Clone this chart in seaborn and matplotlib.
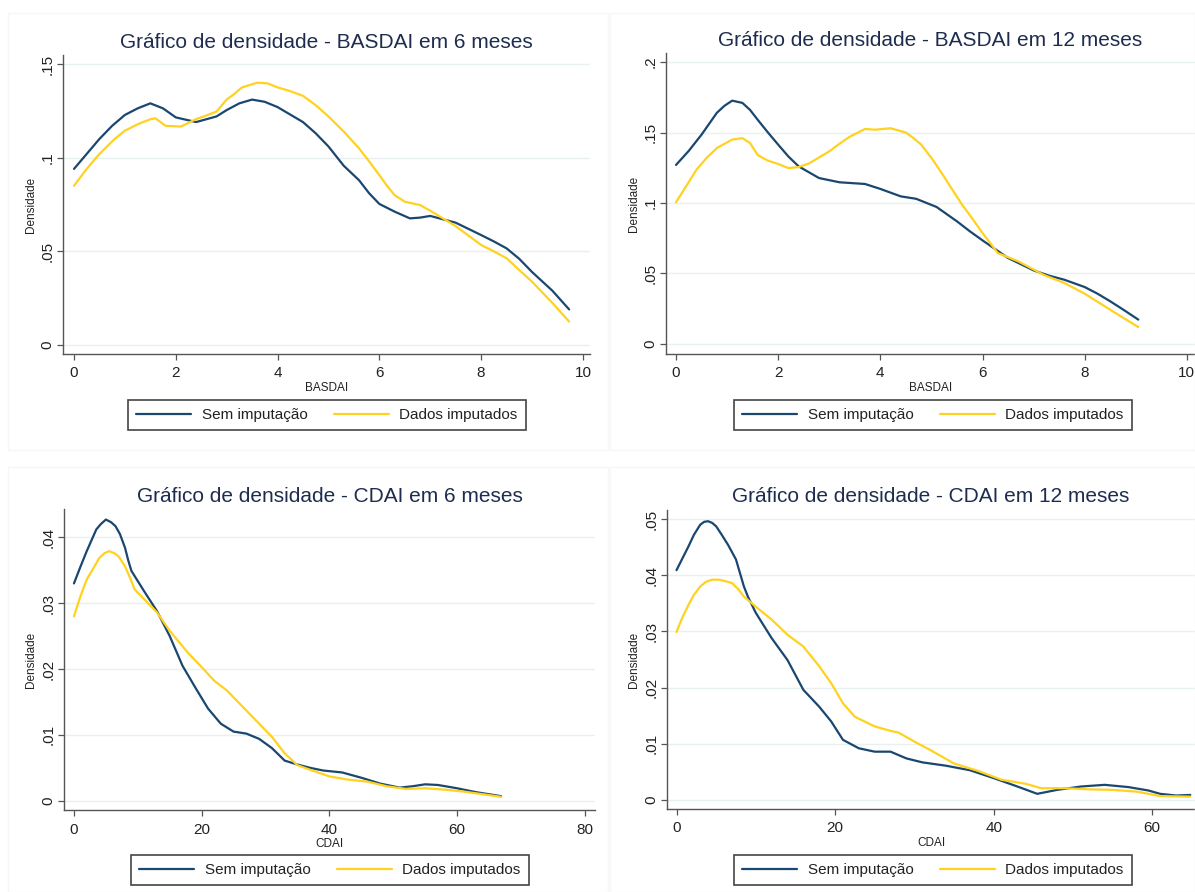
import numpy as np
import pandas as pd
import seaborn as sns
import matplotlib
matplotlib.use("Agg")
import matplotlib.pyplot as plt
from matplotlib.patches import Rectangle

# ---------------- data ----------------
labels = ["Sem imputação", "Dados imputados"]

# Panel 1: BASDAI 6 meses
b6_x_sem = [0, 0.5, 0.75, 1, 1.25, 1.5, 1.75, 2, 2.4, 2.8, 3, 3.25, 3.5, 3.75, 4, 4.25, 4.5, 4.75,
            5, 5.3, 5.6, 5.8, 6, 6.3, 6.6, 6.8, 7, 7.5, 8, 8.25, 8.5, 8.75, 9, 9.4, 9.73]
b6_y_sem = [0.094, 0.110, 0.117, 0.1228, 0.1263, 0.129, 0.1263, 0.1215, 0.119, 0.122, 0.1254, 0.129,
            0.131, 0.1298, 0.127, 0.123, 0.119, 0.113, 0.106, 0.0957, 0.088, 0.081, 0.0753, 0.0712,
            0.0676, 0.068, 0.0689, 0.0653, 0.0587, 0.0553, 0.0516, 0.046, 0.039, 0.029, 0.019]
b6_x_imp = [0, 0.25, 0.5, 0.8, 1, 1.25, 1.5, 1.6, 1.8, 2.1, 2.4, 2.6, 2.8, 3, 3.15, 3.3, 3.6, 3.8,
            4, 4.25, 4.5, 4.75, 5, 5.3, 5.6, 5.8, 6, 6.15, 6.3, 6.5, 6.8, 7, 7.5, 8, 8.25, 8.5, 8.75,
            9, 9.4, 9.73]
b6_y_imp = [0.085, 0.094, 0.102, 0.110, 0.1144, 0.1178, 0.1205, 0.121, 0.117, 0.1166, 0.1206, 0.1225,
            0.1246, 0.131, 0.134, 0.1375, 0.140, 0.1397, 0.1375, 0.1355, 0.133, 0.128, 0.122, 0.114,
            0.105, 0.098, 0.0907, 0.085, 0.080, 0.0765, 0.0747, 0.0717, 0.0635, 0.0534, 0.050,
            0.0463, 0.040, 0.0338, 0.0225, 0.0125]

# Panel 2: BASDAI 12 meses
b12_x_sem = [0, 0.25, 0.5, 0.8, 0.95, 1.1, 1.3, 1.45, 1.6, 1.8, 2, 2.2, 2.4, 2.8, 3.2, 3.7, 4, 4.4,
             4.7, 5.1, 5.5, 5.75, 6, 6.5, 7, 7.3, 7.6, 8, 8.25, 8.5, 8.75, 9.05]
b12_y_sem = [0.127, 0.137, 0.1485, 0.164, 0.169, 0.1726, 0.171, 0.166, 0.159, 0.150, 0.1414, 0.133,
             0.126, 0.1177, 0.1147, 0.1135, 0.110, 0.1047, 0.103, 0.0972, 0.087, 0.080, 0.0735,
             0.061, 0.0522, 0.0485, 0.0456, 0.0404, 0.0357, 0.0303, 0.0245, 0.0173]
b12_x_imp = [0, 0.2, 0.4, 0.6, 0.8, 1.1, 1.3, 1.45, 1.6, 1.8, 2, 2.2, 2.4, 2.6, 3, 3.2, 3.4, 3.7,
             3.9, 4.2, 4.5, 4.65, 4.8, 5.0, 5.2, 5.4, 5.6, 5.8, 6, 6.3, 6.7, 7.2, 7.6, 8, 8.5, 9.05]
b12_y_imp = [0.1005, 0.112, 0.1236, 0.132, 0.139, 0.145, 0.146, 0.1425, 0.134, 0.130, 0.1277, 0.1248,
             0.1255, 0.128, 0.1366, 0.142, 0.147, 0.1525, 0.152, 0.153, 0.150, 0.146, 0.1414, 0.132,
             0.1213, 0.110, 0.0988, 0.089, 0.0787, 0.0645, 0.0586, 0.049, 0.0433, 0.0357, 0.0243,
             0.012]

# Panel 3: CDAI 6 meses
c6_x_sem = [0, 1, 2, 3.5, 4.2, 5, 5.8, 6.5, 7.2, 8, 8.5, 9, 11, 13, 15, 17, 19, 21, 23, 25, 27, 29,
            31, 33, 35, 37, 39, 42, 45, 48, 51, 53, 55, 57, 60, 63, 66.9]
c6_y_sem = [0.033, 0.0355, 0.0379, 0.0412, 0.042, 0.0427, 0.0423, 0.0417, 0.0405, 0.0384, 0.0365,
            0.0349, 0.0318, 0.0288, 0.025, 0.0205, 0.0172, 0.014, 0.0117, 0.0105, 0.0102, 0.0094,
            0.008, 0.0061, 0.0055, 0.005, 0.0046, 0.0043, 0.0035, 0.0026, 0.002, 0.0022, 0.0025,
            0.0024, 0.0019, 0.0013, 0.0007]
c6_x_imp = [0, 1, 2, 4, 4.8, 5.5, 6.3, 7, 8, 8.8, 9.5, 11, 13, 15, 18, 20, 22, 24, 26, 28, 31, 33,
            35, 37, 40, 43, 46, 49, 52, 55, 58, 61, 64, 66.9]
c6_y_imp = [0.028, 0.031, 0.0336, 0.0369, 0.0376, 0.0379, 0.0376, 0.0371, 0.0356, 0.0338, 0.0321,
            0.0306, 0.0286, 0.0258, 0.0223, 0.0203, 0.0182, 0.0167, 0.0147, 0.0127, 0.0097, 0.0072,
            0.0054, 0.0047, 0.0037, 0.0032, 0.0029, 0.0022, 0.0018, 0.0019, 0.0017, 0.0014, 0.001,
            0.0006]

# Panel 4: CDAI 12 meses
c12_x_sem = [0, 0.75, 1.5, 2.2, 3, 3.5, 4, 4.5, 5, 5.7, 6.5, 7.5, 8.5, 9, 10, 12, 14, 16, 18, 19.5,
             21, 23, 25, 27, 29, 31, 34, 37, 40, 43, 45.5, 48, 51, 54, 57, 59.5, 61, 63, 64.8]
c12_y_sem = [0.0409, 0.043, 0.0451, 0.0472, 0.049, 0.0495, 0.0496, 0.0493, 0.0487, 0.0472, 0.0454,
             0.0428, 0.038, 0.0362, 0.0333, 0.0288, 0.0249, 0.0196, 0.0166, 0.014, 0.0107, 0.0092,
             0.0086, 0.0086, 0.0074, 0.0067, 0.0061, 0.0053, 0.0039, 0.0024, 0.0011, 0.0018,
             0.0024, 0.0027, 0.0023, 0.0017, 0.0011, 0.0008, 0.0009]
c12_x_imp = [0, 0.75, 1.5, 2.2, 3, 3.7, 4.5, 5.3, 6, 7, 7.8, 8.5, 10, 12, 14, 16, 18, 19.5, 21,
             22.5, 25, 27, 28, 30, 32, 35, 38, 41, 44, 46, 49, 52, 55, 58, 61, 64.8]
c12_y_imp = [0.0299, 0.0325, 0.0347, 0.0365, 0.038, 0.0388, 0.0392, 0.0392, 0.039, 0.0386, 0.0375,
             0.0362, 0.0344, 0.0321, 0.0294, 0.0273, 0.0238, 0.0208, 0.0172, 0.0148, 0.0131,
             0.0123, 0.012, 0.0104, 0.0089, 0.0065, 0.0052, 0.0036, 0.0029, 0.0021, 0.0021, 0.0019,
             0.0018, 0.0015, 0.0007, 0.0006]

titles = ["Gráfico de densidade - BASDAI em 6 meses",
          "Gráfico de densidade - BASDAI em 12 meses",
          "Gráfico de densidade - CDAI em 6 meses",
          "Gráfico de densidade - CDAI em 12 meses"]
xlabels = ["BASDAI", "BASDAI", "CDAI", "CDAI"]
xticks_list = [[0, 2, 4, 6, 8, 10], [0, 2, 4, 6, 8, 10], [0, 20, 40, 60, 80], [0, 20, 40, 60]]
yticks_list = [[0, 0.05, 0.1, 0.15], [0, 0.05, 0.1, 0.15, 0.2],
               [0, 0.01, 0.02, 0.03, 0.04], [0, 0.01, 0.02, 0.03, 0.04, 0.05]]
ytick_labels = [["0", ".05", ".1", ".15"], ["0", ".05", ".1", ".15", ".2"],
                ["0", ".01", ".02", ".03", ".04"], ["0", ".01", ".02", ".03", ".04", ".05"]]

series = [
    (b6_x_sem, b6_y_sem, b6_x_imp, b6_y_imp),
    (b12_x_sem, b12_y_sem, b12_x_imp, b12_y_imp),
    (c6_x_sem, c6_y_sem, c6_x_imp, c6_y_imp),
    (c12_x_sem, c12_y_sem, c12_x_imp, c12_y_imp),
]

# ---------------- layout (pixels of a 1195x892 figure) ----------------
W, H = 1195, 892
ax_px = [(63, 590, 55, 354), (666, 1195, 53, 354), (64, 595, 509, 810), (667, 1195, 510, 809)]
xlims = [(-0.216, 10.14), (-0.196, 10.16), (-1.56, 81.6), (-1.2, 65.4)]
ylims = [(-0.0048, 0.1548), (-0.0071, 0.2064), (-0.0014, 0.0443), (-0.0016, 0.0516)]
legend_centers = [(327, 415), (933, 415), (330, 870), (933, 870)]
panel_boxes = [(8, 13, 600, 437), (610, 13, 585, 437), (8, 467, 600, 425), (610, 467, 585, 425)]

NAVY = "#1A476F"
GOLD = "#FFD21F"
TITLE_C = "#1E2D4F"

sns.set_theme(style="white")
plt.rcParams["font.family"] = ["Liberation Sans", "DejaVu Sans"]

fig = plt.figure(figsize=(W / 100, H / 100), dpi=100)
fig.patch.set_facecolor("white")

for (bx, by, bw, bh) in panel_boxes:
    fig.patches.append(Rectangle((bx / W, 1 - (by + bh) / H), bw / W, bh / H,
                                 transform=fig.transFigure, fill=False,
                                 edgecolor="#F6F6F6", linewidth=1.0))

for i in range(4):
    l, r, t, b = ax_px[i]
    ax = fig.add_axes([l / W, 1 - b / H, (r - l) / W, (b - t) / H])
    xs, ys, xi, yi = series[i]
    df_s = pd.DataFrame({"x": xs, "y": ys})
    df_i = pd.DataFrame({"x": xi, "y": yi})
    sns.lineplot(data=df_s, x="x", y="y", ax=ax, color=NAVY, lw=1.6, label=labels[0],
                 estimator=None, sort=True, solid_joinstyle="round")
    sns.lineplot(data=df_i, x="x", y="y", ax=ax, color=GOLD, lw=1.6, label=labels[1],
                 estimator=None, sort=True, solid_joinstyle="round")
    ax.set_xlim(*xlims[i])
    ax.set_ylim(*ylims[i])
    ax.set_xticks(xticks_list[i])
    ax.set_xticklabels([str(v) for v in xticks_list[i]])
    ax.set_yticks(yticks_list[i])
    ax.set_yticklabels(ytick_labels[i], rotation=90, va="center")
    for yv in yticks_list[i]:
        ax.axhline(yv, color="#E8F0F2", lw=1.0, zorder=0)
    for sp in ["top", "right"]:
        ax.spines[sp].set_visible(False)
    for sp in ["left", "bottom"]:
        ax.spines[sp].set_color("#555555")
        ax.spines[sp].set_linewidth(1.0)
    ax.tick_params(axis="x", which="major", length=4, width=0.9, color="#555555",
                   labelsize=11, labelcolor="#222222", direction="out", bottom=True, pad=5)
    ax.tick_params(axis="y", which="major", length=4, width=0.9, color="#555555",
                   labelsize=11, labelcolor="#222222", direction="out", left=True, pad=2)
    ax.set_xlabel(xlabels[i], fontsize=8.5, color="#222222", labelpad=1)
    ax.set_ylabel("Densidade", fontsize=8.5, color="#222222", labelpad=3)
    cx = (l + r) / 2
    fig.text(cx / W, 1 - (t - 13) / H, titles[i], ha="center", va="center",
             fontsize=15, color=TITLE_C)
    lx, ly = legend_centers[i]
    leg = ax.legend(loc="center", bbox_to_anchor=(lx / W, 1 - ly / H),
                    bbox_transform=fig.transFigure, ncol=2, frameon=True, fancybox=False,
                    edgecolor="#444444", framealpha=1, fontsize=11, handlelength=3.6,
                    handletextpad=0.7, columnspacing=1.7, borderpad=0.55)
    leg.get_frame().set_linewidth(1.2)
    for txt in leg.get_texts():
        txt.set_color("#222222")

fig.savefig("out.png", dpi=100, facecolor="white")
